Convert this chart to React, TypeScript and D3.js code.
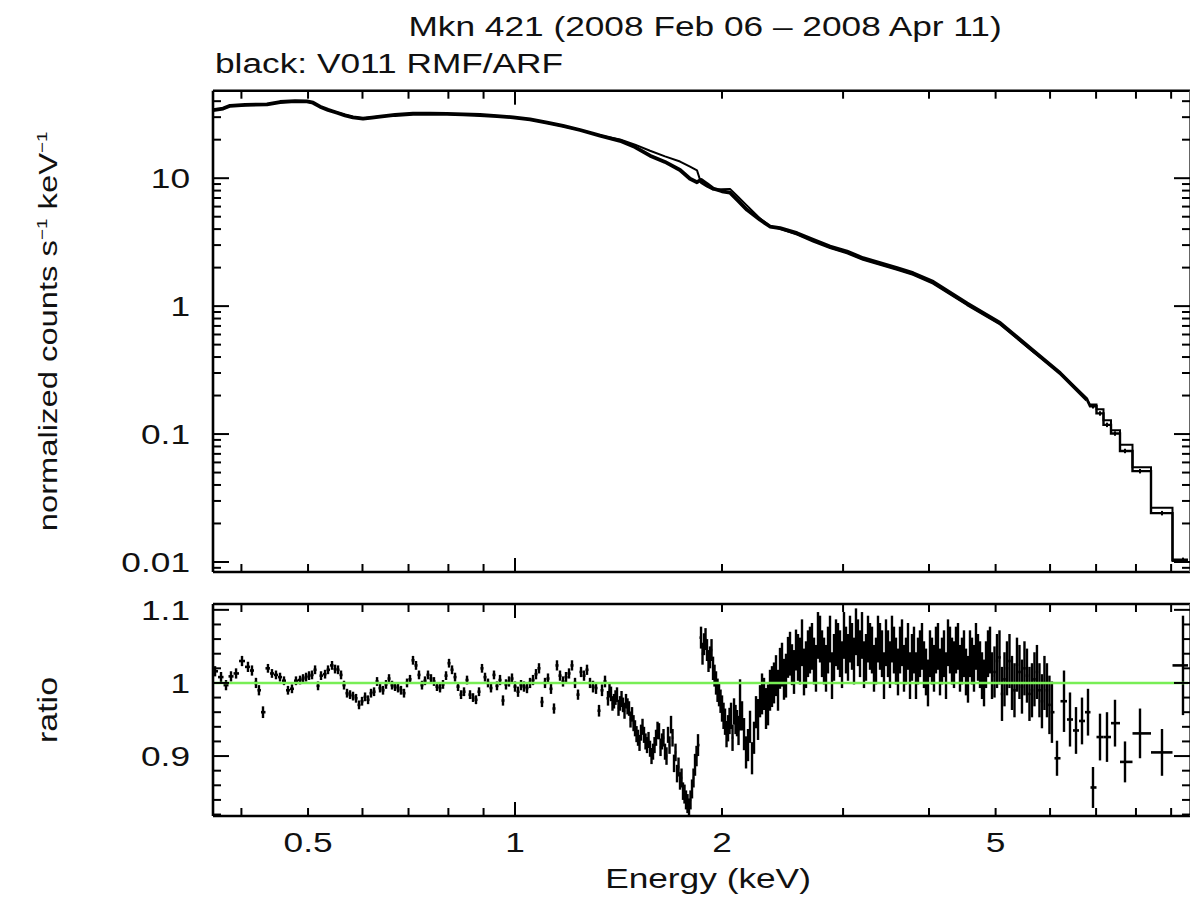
import React, { useEffect, useRef } from 'react';
import * as d3 from 'd3';

// ---------- data ----------
// upper panel: densely binned part (energy keV, data, model) in counts s^-1 keV^-1
const specE = [0.3637, 0.3762, 0.3851, 0.4049, 0.4358, 0.4552, 0.4787, 0.4983, 0.5084, 0.5205, 0.5346, 0.551, 0.5659, 0.5813, 0.6011, 0.6195, 0.6363, 0.6691, 0.7106, 0.7523, 0.7964, 0.8402, 0.8894, 0.9414, 0.9933, 1.0515, 1.1131, 1.1743, 1.2432, 1.3293, 1.4214, 1.4946, 1.5716, 1.6525, 1.7377, 1.7968, 1.8394, 1.8643, 1.9021, 1.9408, 2.0002, 2.0544, 2.1032, 2.1748, 2.2715, 2.3488, 2.4288, 2.5711, 2.7126, 2.8715, 3.0397, 3.207, 3.3949, 3.5937, 3.7915, 4.0542, 4.5429, 5.074, 5.6665, 6.2029, 6.7899];
const specData = [34.0, 35.0, 36.8, 37.4, 37.8, 39.4, 40.0, 39.8, 38.9, 36.2, 34.2, 32.5, 31.0, 29.9, 29.2, 29.8, 30.3, 31.2, 31.9, 32.0, 31.8, 31.5, 31.2, 30.6, 29.9, 28.8, 27.2, 25.6, 23.8, 21.5, 19.6, 17.5, 15.0, 13.4, 11.6, 9.9, 9.3, 9.7, 9.0, 8.3, 7.9, 7.7, 6.8, 5.66, 4.73, 4.19, 4.07, 3.72, 3.3, 2.92, 2.67, 2.37, 2.17, 1.98, 1.81, 1.55, 1.05, 0.74, 0.45, 0.3, 0.185];
const specModel = [34.0, 35.0, 36.6, 37.2, 37.8, 39.2, 39.8, 39.6, 38.8, 36.2, 34.3, 32.7, 31.3, 30.1, 29.4, 29.9, 30.3, 31.1, 31.7, 31.9, 31.7, 31.4, 31.1, 30.6, 29.9, 28.7, 27.1, 25.5, 23.8, 21.6, 20.1, 18.3, 16.4, 14.8, 13.5, 12.3, 11.5, 9.2, 8.6, 8.15, 8.2, 8.25, 7.3, 6.1, 4.85, 4.22, 4.03, 3.62, 3.2, 2.84, 2.59, 2.3, 2.1, 1.92, 1.76, 1.5, 1.02, 0.72, 0.44, 0.3, 0.19];
// upper panel: wide bins at high energy
const stepE = [6.9279, 7.0922, 7.2604, 7.4576, 7.7116, 8.1089, 8.7288, 9.3648];
const stepData = [0.165, 0.145, 0.118, 0.101, 0.0738, 0.0513, 0.0241, 0.0104];
const stepModel = [0.17, 0.156, 0.128, 0.107, 0.0825, 0.0551, 0.0266, 0.0102];

// lower panel: ratio data/model
const ratioE = [0.3662, 0.3736, 0.3799, 0.3863, 0.3929, 0.4008, 0.4089, 0.4144, 0.42, 0.4242, 0.43, 0.4372, 0.4431, 0.4491, 0.4552, 0.4613, 0.4675, 0.4738, 0.4802, 0.4868, 0.4917, 0.4967, 0.5017, 0.5067, 0.5119, 0.517, 0.5222, 0.5293, 0.5346, 0.5418, 0.5473, 0.5528, 0.5584, 0.564, 0.5697, 0.5755, 0.5813, 0.5872, 0.5931, 0.5991, 0.6052, 0.6113, 0.6174, 0.6237, 0.63, 0.6363, 0.6427, 0.6492, 0.6558, 0.6624, 0.6691, 0.6758, 0.6826, 0.6895, 0.6965, 0.7035, 0.7106, 0.7178, 0.725, 0.7323, 0.7397, 0.7472, 0.7547, 0.7623, 0.77, 0.7779, 0.7857, 0.7937, 0.8017, 0.8098, 0.818, 0.8262, 0.8346, 0.843, 0.8515, 0.8601, 0.8688, 0.8775, 0.8864, 0.8953, 0.9044, 0.9135, 0.9227, 0.932, 0.9414, 0.951, 0.9605, 0.9702, 0.98, 0.9899, 1.0, 1.0101, 1.0203, 1.0305, 1.0409, 1.0515, 1.0621, 1.0728, 1.0836, 1.0945, 1.1056, 1.1167, 1.128, 1.1394, 1.1509, 1.1626, 1.1743, 1.1862, 1.1982, 1.2102, 1.2225, 1.2348, 1.2473, 1.2599, 1.2726, 1.2855, 1.2985, 1.3116, 1.3248, 1.3382, 1.3517, 1.3653, 1.3791, 1.393, 1.4071, 1.4214, 1.4357, 1.4502, 1.4649, 1.4797, 1.4946, 1.5097, 1.5249, 1.5403, 1.5559, 1.5716, 1.5875, 1.6035, 1.6197, 1.636, 1.6525, 1.6692, 1.6861, 1.7031, 1.7203, 1.7377, 1.7552, 1.7729, 1.7908, 1.8089, 1.8272, 1.8456, 1.8643, 1.8831, 1.9021, 1.9214, 1.9408, 1.9604, 1.9802, 2.0002, 2.0204, 2.0408, 2.0614, 2.0822, 2.1032, 2.1245, 2.1531, 2.1821, 2.2115, 2.2413, 2.2715, 2.3021, 2.3331, 2.3645, 2.3964, 2.4288, 2.4615, 2.4947, 2.5283, 2.5624, 2.5969, 2.6319, 2.6673, 2.7033, 2.7397, 2.777, 2.8144, 2.8523, 2.8908, 2.9297, 2.9692, 3.0092, 3.0498, 3.0909, 3.1325, 3.1749, 3.2177, 3.2611, 3.305, 3.3496, 3.3947, 3.4405, 3.4868, 3.5338, 3.5815, 3.63, 3.6789, 3.7285, 3.7787, 3.8297, 3.8813, 3.9336, 3.9866, 4.0404, 4.0948, 4.1504, 4.2063, 4.263, 4.3205, 4.3787, 4.4377, 4.4975, 4.5581, 4.6196, 4.6818, 4.7454, 4.8094, 4.8742, 4.9399, 5.0232, 5.1079, 5.1941, 5.2817, 5.3708, 5.4614, 5.5535, 5.6472, 5.7424, 5.8393, 5.9378, 6.0379, 6.1412, 6.2868, 6.4144, 6.5446, 6.6774, 6.8129, 6.9279, 7.0922, 7.2604, 7.4576, 7.7116, 8.1089, 8.7288, 9.3648, 9.7814];
const ratioV = [1.016, 1.008, 0.997, 1.009, 1.013, 1.03, 1.022, 1.017, 1.0, 0.99, 0.96, 1.02, 1.013, 1.011, 1.008, 1.003, 0.99, 0.992, 1.003, 1.004, 1.006, 1.008, 1.01, 1.011, 1.018, 0.996, 1.01, 1.012, 1.018, 1.024, 1.019, 1.018, 1.011, 0.997, 0.986, 0.984, 0.982, 0.979, 0.97, 0.975, 0.981, 0.977, 0.986, 0.988, 1.002, 0.993, 0.99, 0.998, 1.006, 0.997, 0.995, 0.993, 0.99, 0.986, 1.0, 1.005, 1.031, 1.024, 1.011, 0.997, 1.003, 1.011, 1.006, 1.002, 0.995, 0.993, 0.998, 1.01, 1.027, 1.018, 1.008, 0.995, 0.984, 0.988, 1.004, 0.984, 0.98, 0.977, 0.988, 1.02, 1.008, 1.0, 0.993, 1.011, 0.996, 1.004, 0.976, 0.998, 1.002, 1.006, 0.995, 0.988, 0.997, 0.995, 0.993, 1.0, 1.004, 1.012, 1.02, 0.974, 1.0, 1.006, 0.992, 0.965, 1.024, 1.01, 1.002, 1.008, 1.013, 1.024, 1.0, 0.984, 1.015, 1.01, 1.018, 1.0, 0.995, 0.993, 0.962, 0.99, 1.002, 0.979, 0.985, 0.975, 0.984, 0.972, 0.97, 0.975, 0.965, 0.957, 0.938, 0.925, 0.932, 0.929, 0.915, 0.91, 0.906, 0.925, 0.934, 0.92, 0.906, 0.929, 0.943, 0.89, 0.876, 0.866, 0.852, 0.84, 0.829, 0.855, 0.888, 0.915, 1.062, 1.053, 1.045, 1.035, 1.02, 1.0, 0.984, 0.965, 0.947, 0.938, 0.955, 0.961, 0.945, 0.97, 0.93, 0.915, 0.897, 0.96, 0.975, 0.985, 0.97, 0.995, 1.01, 1.02, 1.005, 1.035, 1.025, 1.045, 1.03, 1.015, 1.04, 1.05, 1.02, 1.06, 1.03, 1.045, 1.01, 1.055, 1.04, 1.065, 1.035, 1.05, 1.07, 1.04, 1.025, 1.06, 1.045, 1.03, 1.05, 1.01, 1.04, 1.06, 1.03, 1.045, 1.02, 1.05, 1.035, 1.01, 1.04, 1.025, 1.0, 1.03, 1.045, 1.015, 1.04, 1.055, 1.03, 1.045, 1.02, 1.04, 1.005, 1.03, 1.05, 1.025, 1.0, 1.04, 1.01, 1.03, 0.985, 1.02, 1.0, 1.025, 0.995, 1.01, 0.99, 1.015, 0.975, 0.99, 0.96, 0.897, 0.975, 0.95, 0.935, 0.948, 0.96, 0.857, 0.926, 0.926, 0.945, 0.892, 0.931, 0.905, 1.024, 0.899];
const ratioErr = [0.007, 0.007, 0.007, 0.007, 0.007, 0.007, 0.007, 0.007, 0.007, 0.007, 0.008, 0.006, 0.006, 0.006, 0.006, 0.006, 0.006, 0.006, 0.006, 0.006, 0.006, 0.006, 0.006, 0.006, 0.006, 0.006, 0.006, 0.006, 0.006, 0.006, 0.006, 0.006, 0.006, 0.006, 0.006, 0.006, 0.006, 0.006, 0.006, 0.006, 0.006, 0.006, 0.006, 0.006, 0.006, 0.006, 0.006, 0.006, 0.006, 0.006, 0.006, 0.006, 0.006, 0.006, 0.006, 0.006, 0.006, 0.006, 0.006, 0.006, 0.006, 0.006, 0.006, 0.006, 0.006, 0.006, 0.006, 0.006, 0.006, 0.006, 0.006, 0.006, 0.006, 0.006, 0.006, 0.006, 0.006, 0.006, 0.006, 0.006, 0.006, 0.006, 0.006, 0.006, 0.006, 0.007, 0.007, 0.007, 0.007, 0.007, 0.007, 0.007, 0.007, 0.007, 0.007, 0.007, 0.007, 0.007, 0.007, 0.007, 0.007, 0.007, 0.007, 0.007, 0.007, 0.007, 0.007, 0.007, 0.007, 0.007, 0.007, 0.007, 0.007, 0.007, 0.007, 0.007, 0.008, 0.008, 0.008, 0.008, 0.008, 0.01, 0.01, 0.01, 0.01, 0.01, 0.01, 0.01, 0.01, 0.01, 0.011, 0.011, 0.011, 0.011, 0.011, 0.011, 0.011, 0.011, 0.011, 0.011, 0.011, 0.011, 0.012, 0.012, 0.012, 0.012, 0.012, 0.013, 0.013, 0.013, 0.015, 0.015, 0.015, 0.015, 0.015, 0.015, 0.016, 0.016, 0.016, 0.018, 0.018, 0.018, 0.018, 0.018, 0.018, 0.035, 0.022, 0.022, 0.022, 0.022, 0.022, 0.022, 0.028, 0.028, 0.028, 0.028, 0.028, 0.028, 0.028, 0.028, 0.032, 0.032, 0.032, 0.032, 0.032, 0.032, 0.032, 0.032, 0.032, 0.032, 0.032, 0.032, 0.032, 0.032, 0.032, 0.032, 0.032, 0.032, 0.032, 0.032, 0.032, 0.032, 0.032, 0.032, 0.032, 0.032, 0.032, 0.032, 0.032, 0.032, 0.032, 0.032, 0.032, 0.032, 0.032, 0.032, 0.032, 0.032, 0.032, 0.032, 0.032, 0.032, 0.032, 0.032, 0.032, 0.032, 0.032, 0.032, 0.032, 0.037, 0.037, 0.037, 0.037, 0.037, 0.037, 0.037, 0.037, 0.037, 0.037, 0.037, 0.042, 0.024, 0.042, 0.037, 0.032, 0.032, 0.032, 0.028, 0.032, 0.034, 0.032, 0.028, 0.034, 0.032, 0.068, 0.04];
// lower panel: further bins in the crowded 2.25-6 keV stretch
const ratioE2 = [2.2564, 2.2868, 2.3176, 2.3488, 2.3804, 2.4125, 2.4451, 2.478, 2.5115, 2.5453, 2.5796, 2.6144, 2.6496, 2.6852, 2.7215, 2.7581, 2.7957, 2.8333, 2.8715, 2.9102, 2.9494, 2.9892, 3.0294, 3.0703, 3.1117, 3.1535, 3.1962, 3.2393, 3.283, 3.3272, 3.3721, 3.4175, 3.4636, 3.5102, 3.5575, 3.6056, 3.6544, 3.7036, 3.7536, 3.8041, 3.8554, 3.9074, 3.96, 4.0134, 4.0676, 4.1223, 4.1783, 4.2346, 4.2916, 4.3495, 4.4081, 4.4675, 4.5277, 4.5887, 4.6506, 4.7133, 4.7773, 4.8417, 4.907, 4.9814, 5.0654, 5.1508, 5.2378, 5.3261, 5.4159, 5.5073, 5.6002, 5.6947, 5.7907, 5.8884, 5.9877];
const ratioV2 = [0.95, 0.985, 0.965, 0.99, 1.0, 0.99, 1.025, 1.01, 1.04, 1.015, 1.035, 1.055, 1.025, 1.045, 1.03, 1.065, 1.04, 1.02, 1.06, 1.035, 1.05, 1.025, 1.045, 1.06, 1.03, 1.055, 1.065, 1.035, 1.05, 1.02, 1.06, 1.04, 1.055, 1.025, 1.045, 1.015, 1.055, 1.03, 1.01, 1.045, 1.03, 1.05, 1.015, 1.04, 1.02, 1.05, 1.03, 1.01, 1.045, 1.025, 1.05, 1.03, 1.015, 1.04, 1.02, 1.035, 1.01, 1.025, 1.045, 1.015, 1.035, 1.005, 1.03, 0.99, 1.015, 1.02, 0.985, 1.005, 0.99, 1.0, 0.97];
const ratioErr2 = [0.028, 0.028, 0.028, 0.028, 0.028, 0.028, 0.03, 0.03, 0.03, 0.03, 0.032, 0.032, 0.032, 0.032, 0.032, 0.032, 0.032, 0.032, 0.032, 0.032, 0.032, 0.032, 0.032, 0.032, 0.032, 0.032, 0.032, 0.032, 0.032, 0.032, 0.032, 0.032, 0.032, 0.032, 0.032, 0.032, 0.032, 0.032, 0.032, 0.032, 0.032, 0.032, 0.032, 0.032, 0.032, 0.032, 0.032, 0.032, 0.032, 0.032, 0.032, 0.032, 0.032, 0.032, 0.032, 0.032, 0.032, 0.032, 0.032, 0.035, 0.037, 0.037, 0.037, 0.037, 0.037, 0.037, 0.037, 0.037, 0.037, 0.037, 0.04];
// lower panel: further bins in the 1.37-2.23 keV stretch (absorption dip and edge)
const ratioE3 = [1.3722, 1.386, 1.4, 1.4142, 1.4286, 1.4429, 1.4575, 1.4723, 1.4872, 1.5021, 1.5173, 1.5326, 1.5481, 1.5637, 1.5795, 1.5955, 1.6116, 1.6279, 1.6442, 1.6608, 1.6776, 1.6946, 1.7117, 1.729, 1.7465, 1.764, 1.7818, 1.7998, 1.818, 1.8364, 1.8737, 1.8926, 1.9117, 1.9311, 1.9506, 1.9703, 1.9902, 2.0103, 2.0306, 2.0511, 2.0718, 2.0927, 2.1138, 2.1388, 2.1676, 2.1968, 2.2264];
const ratioV3 = [0.99, 0.972, 0.98, 0.966, 0.978, 0.962, 0.968, 0.95, 0.945, 0.93, 0.918, 0.94, 0.92, 0.922, 0.9, 0.915, 0.935, 0.912, 0.925, 0.9, 0.915, 0.925, 0.905, 0.885, 0.87, 0.848, 0.835, 0.84, 0.87, 0.9, 1.04, 1.06, 1.03, 1.045, 1.01, 0.99, 0.975, 0.955, 0.93, 0.948, 0.925, 0.95, 0.935, 0.955, 0.905, 0.94, 0.925];
const ratioErr3 = [0.01, 0.01, 0.01, 0.011, 0.011, 0.011, 0.011, 0.011, 0.011, 0.011, 0.011, 0.011, 0.011, 0.011, 0.011, 0.011, 0.012, 0.012, 0.012, 0.012, 0.012, 0.012, 0.012, 0.013, 0.013, 0.013, 0.013, 0.013, 0.013, 0.014, 0.015, 0.015, 0.015, 0.015, 0.015, 0.016, 0.016, 0.018, 0.018, 0.018, 0.018, 0.02, 0.02, 0.02, 0.022, 0.022, 0.022];

const xTickValues = [0.4, 0.5, 0.6, 0.7, 0.8, 0.9, 1, 2, 3, 4, 5, 6, 7, 8, 9];
const xTickLabels = [0.5, 1, 2, 5];
const yTopTickLabels = [0.01, 0.1, 1, 10];
const yBotTickLabels = [0.9, 1, 1.1];

const FONT = "'Liberation Sans', Arial, Helvetica, sans-serif";
const SX = 1.26;

export default function App() {
  const ref = useRef<SVGSVGElement>(null);

  useEffect(() => {
    const svg = d3.select(ref.current);
    svg.selectAll('*').remove();

    const L = 213, R = 1188;
    const topT = 90.7, topB = 572;
    const botT = 604, botB = 816;

    const x = d3.scaleLog().domain([0.3637, 9.523]).range([L, R]);
    const yT = d3.scaleLog().domain([0.00835, 48.3]).range([topB, topT]);
    const yB = d3.scaleLinear().domain([0.818, 1.108]).range([botB, botT]);

    const defs = svg.append('defs');
    defs.append('clipPath').attr('id', 'clipTop').append('rect')
      .attr('x', L).attr('y', topT).attr('width', R - L).attr('height', topB - topT);
    defs.append('clipPath').attr('id', 'clipBot').append('rect')
      .attr('x', L).attr('y', botT).attr('width', R - L).attr('height', botB - botT);

    const txt = (tx: number, ty: number, s: string, anchor: string, size: number, rot = 0) =>
      svg.append('text')
        .attr('transform', `translate(${tx},${ty}) rotate(${rot}) scale(${SX},1)`)
        .attr('text-anchor', anchor)
        .style('font-family', FONT)
        .style('font-size', `${size}px`)
        .attr('fill', '#111')
        .text(s);

    // ---------- upper panel ----------
    const gT = svg.append('g').attr('clip-path', 'url(#clipTop)');
    const lineT = d3.line<[number, number]>().x(d => x(d[0])).y(d => yT(d[1]));
    const dataPts: [number, number][] = specE.map((e, i) => [e, specData[i]]);
    const modelPts: [number, number][] = specE.map((e, i) => [e, specModel[i]]);

    const stepEdges: number[] = [];
    stepE.forEach((e, i) => {
      const prev = i === 0 ? specE[specE.length - 1] : stepE[i - 1];
      stepEdges.push(Math.sqrt(prev * e));
    });
    stepEdges.push(stepE[stepE.length - 1] * stepE[stepE.length - 1] / stepEdges[stepEdges.length - 1]);
    const stepPath = (vals: number[], last: number): [number, number][] => {
      const pts: [number, number][] = [[specE[specE.length - 1], last]];
      vals.forEach((v, i) => {
        pts.push([stepEdges[i], v]);
        pts.push([stepEdges[i + 1], v]);
        if (i < vals.length - 1) pts.push([stepEdges[i + 1], vals[i + 1]]);
      });
      return pts;
    };

    gT.append('path').attr('d', lineT(dataPts)!).attr('fill', 'none')
      .attr('stroke', '#000').attr('stroke-width', 3.8).attr('stroke-linejoin', 'round');
    gT.append('path').attr('d', lineT(modelPts)!).attr('fill', 'none')
      .attr('stroke', '#000').attr('stroke-width', 2).attr('stroke-linejoin', 'round');
    gT.append('path').attr('d', lineT(stepPath(stepModel, specModel[specModel.length - 1]))!).attr('fill', 'none')
      .attr('stroke', '#000').attr('stroke-width', 2);
    gT.append('path').attr('d', lineT(stepPath(stepData, specData[specData.length - 1]))!).attr('fill', 'none')
      .attr('stroke', '#000').attr('stroke-width', 2.4);
    stepE.forEach((e, i) => {
      const v = stepData[i];
      gT.append('line').attr('x1', x(e)).attr('x2', x(e))
        .attr('y1', yT(v * 1.04)).attr('y2', yT(v * 0.96))
        .attr('stroke', '#000').attr('stroke-width', 2);
    });

    // ---------- lower panel ----------
    const bins = ratioE.map((e, i) => ({ e, v: ratioV[i], er: ratioErr[i] }))
      .concat(ratioE2.map((e, i) => ({ e, v: ratioV2[i], er: ratioErr2[i] })))
      .concat(ratioE3.map((e, i) => ({ e, v: ratioV3[i], er: ratioErr3[i] })))
      .sort((a, b) => a.e - b.e);
    const gB = svg.append('g').attr('clip-path', 'url(#clipBot)');
    bins.forEach((b, i) => {
      const e = b.e;
      const lo = i > 0 ? Math.sqrt(bins[i - 1].e * e) : e * e / Math.sqrt(e * bins[i + 1].e);
      const hi = i < bins.length - 1 ? Math.sqrt(bins[i + 1].e * e) : e * e / Math.sqrt(e * bins[i - 1].e);
      gB.append('line').attr('x1', x(lo)).attr('x2', x(hi)).attr('y1', yB(b.v)).attr('y2', yB(b.v))
        .attr('stroke', '#000').attr('stroke-width', 2.6);
      gB.append('line').attr('x1', x(e)).attr('x2', x(e)).attr('y1', yB(b.v - b.er)).attr('y2', yB(b.v + b.er))
        .attr('stroke', '#000').attr('stroke-width', 2.4);
    });
    gB.append('line').attr('x1', L).attr('x2', R).attr('y1', yB(1)).attr('y2', yB(1))
      .attr('stroke', '#78ee55').attr('stroke-width', 2.4);

    // ---------- frames and ticks ----------
    const hline = (x1: number, x2: number, yy: number) =>
      svg.append('line').attr('x1', x1).attr('x2', x2).attr('y1', yy).attr('y2', yy)
        .attr('stroke', '#000').attr('stroke-width', 2.6);
    const frame = (t: number, b: number) => {
      hline(L, 1190, t);
      hline(L, 1190, b);
      svg.append('line').attr('x1', L).attr('x2', L).attr('y1', t).attr('y2', b)
        .attr('stroke', '#000').attr('stroke-width', 2.6);
      svg.append('line').attr('x1', 1189.6).attr('x2', 1189.6).attr('y1', t).attr('y2', b)
        .attr('stroke', '#555').attr('stroke-width', 1);
    };
    frame(topT, topB);
    frame(botT, botB);

    const tick = (x1: number, y1: number, x2: number, y2: number) =>
      svg.append('line').attr('x1', x1).attr('y1', y1).attr('x2', x2).attr('y2', y2)
        .attr('stroke', '#000').attr('stroke-width', 2);

    [[topT, topB], [botT, botB]].forEach(([t, b]) => {
      xTickValues.forEach(v => {
        const len = v === 1 ? 14 : 8;
        tick(x(v), t, x(v), t + len);
        tick(x(v), b, x(v), b - len);
      });
    });

    for (let n = -3; n <= 1; n++) {
      for (let k = 1; k <= 9; k++) {
        const v = k * Math.pow(10, n);
        if (v < 0.00835 || v > 48.3) continue;
        const len = k === 1 ? 16 : 8;
        tick(L, yT(v), L + len, yT(v));
        tick(1190, yT(v), 1190 - len, yT(v));
      }
    }
    for (let i = 0; i <= 14; i++) {
      const v = 0.82 + i * 0.02;
      const major = Math.abs(v - 0.9) < 1e-6 || Math.abs(v - 1.0) < 1e-6 || Math.abs(v - 1.1) < 1e-6;
      const len = major ? 16 : 8;
      tick(L, yB(v), L + len, yB(v));
      tick(1190, yB(v), 1190 - len, yB(v));
    }

    // ---------- labels ----------
    xTickLabels.forEach(v => txt(x(v), 852, String(v), 'middle', 28));
    yTopTickLabels.forEach(v => txt(190, yT(v) + 10, String(v), 'end', 28));
    yBotTickLabels.forEach(v => txt(190, yB(v) + 10, String(v), 'end', 28));

    txt(708, 888, 'Energy (keV)', 'middle', 28);
    txt(57, (botT + botB) / 2, 'ratio', 'middle', 27, -90);

    const yl = svg.append('text')
      .attr('transform', `translate(57,${(topT + topB) / 2}) rotate(-90) scale(${SX},1)`)
      .attr('text-anchor', 'middle')
      .style('font-family', FONT)
      .style('font-size', '26px')
      .attr('fill', '#111');
    yl.append('tspan').text('normalized counts s');
    yl.append('tspan').attr('dy', -10).style('font-size', '15px').text('−1');
    yl.append('tspan').attr('dy', 10).style('font-size', '26px').text(' keV');
    yl.append('tspan').attr('dy', -10).style('font-size', '15px').text('−1');

    txt(705, 36, 'Mkn 421 (2008 Feb 06 – 2008 Apr 11)', 'middle', 28);
    txt(215, 73, 'black: V011 RMF/ARF', 'start', 28);
  }, []);

  return (
    <svg
      ref={ref}
      width={1190}
      height={899}
      style={{ position: 'absolute', left: 0, top: 0, background: '#fff' }}
    />
  );
}
